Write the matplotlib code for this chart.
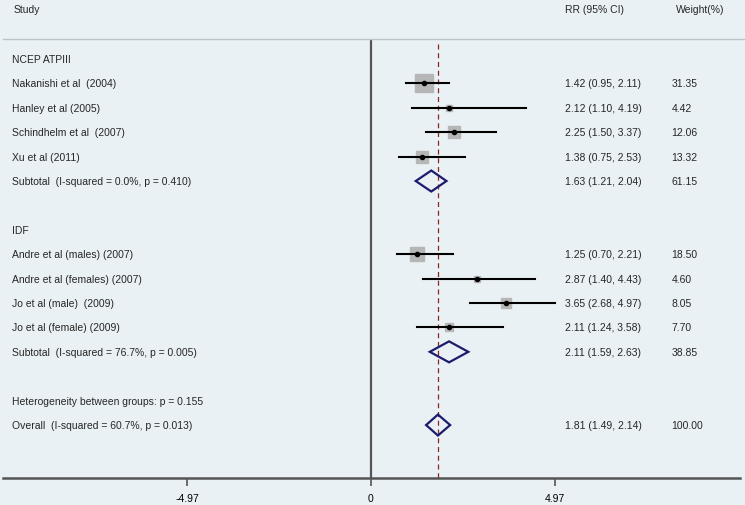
import matplotlib
matplotlib.use('Agg')
import matplotlib.pyplot as plt
import numpy as np
from matplotlib.patches import Polygon

plt.rcParams['font.family'] = ['Liberation Sans', 'DejaVu Sans']
plt.rcParams['text.color'] = '#262626'

# ---- data ----
groups = ['NCEP ATPIII', 'IDF']
studies = [
    ['Nakanishi et al  (2004)', 'Hanley et al (2005)', 'Schindhelm et al  (2007)', 'Xu et al (2011)'],
    ['Andre et al (males) (2007)', 'Andre et al (females) (2007)', 'Jo et al (male)  (2009)', 'Jo et al (female) (2009)'],
]
rr = [[1.42, 2.12, 2.25, 1.38], [1.25, 2.87, 3.65, 2.11]]
lo = [[0.95, 1.10, 1.50, 0.75], [0.70, 1.40, 2.68, 1.24]]
hi = [[2.11, 4.19, 3.37, 2.53], [2.21, 4.43, 4.97, 3.58]]
weights = [[31.35, 4.42, 12.06, 13.32], [18.50, 4.60, 8.05, 7.70]]

sub_labels = ['Subtotal  (I-squared = 0.0%, p = 0.410)', 'Subtotal  (I-squared = 76.7%, p = 0.005)']
sub_rr = [1.63, 2.11]
sub_lo = [1.21, 1.59]
sub_hi = [2.04, 2.63]
sub_w = [61.15, 38.85]

het_label = 'Heterogeneity between groups: p = 0.155'
overall_label = 'Overall  (I-squared = 60.7%, p = 0.013)'
overall = (1.81, 1.49, 2.14, 100.00)

xticks = [-4.97, 0, 4.97]

BG = '#eaf1f4'
FS = 7.5

fig = plt.figure(figsize=(7.45, 5.06), dpi=100, facecolor=BG)
ax = fig.add_axes([3 / 745, (506 - 479) / 506, 737 / 745, (479 - 40) / 506])
ax.set_facecolor(BG)
ax.set_xlim(-9.94, 9.97)
ax.set_ylim(17.17, -0.82)

x_txt = -9.7
x_rr = 5.25
x_w = 8.12


def diamond(y, c, l, h):
    pts = [(l, y), (c, y - 0.43), (h, y), (c, y + 0.43)]
    ax.add_patch(Polygon(pts, closed=True, fill=False, edgecolor='#1c1c6e', linewidth=1.6, zorder=4))


row = 0
for g in range(2):
    ax.text(x_txt, row, groups[g], fontsize=FS, va='center')
    row += 1
    for k in range(4):
        ax.text(x_txt, row, studies[g][k], fontsize=FS, va='center')
        ms = 3.2 * np.sqrt(weights[g][k]) * 0.72
        ax.plot(rr[g][k], row, marker='s', markersize=ms, color='#b6b6b6', zorder=2)
        ax.plot([lo[g][k], hi[g][k]], [row, row], color='black', linewidth=1.5, zorder=3)
        ax.plot(rr[g][k], row, marker='o', markersize=3, color='black', zorder=4)
        ax.text(x_rr, row, f'{rr[g][k]:.2f} ({lo[g][k]:.2f}, {hi[g][k]:.2f})', fontsize=FS, va='center')
        ax.text(x_w, row, f'{weights[g][k]:.2f}', fontsize=FS, va='center')
        row += 1
    ax.text(x_txt, row, sub_labels[g], fontsize=FS, va='center')
    diamond(row, sub_rr[g], sub_lo[g], sub_hi[g])
    ax.text(x_rr, row, f'{sub_rr[g]:.2f} ({sub_lo[g]:.2f}, {sub_hi[g]:.2f})', fontsize=FS, va='center')
    ax.text(x_w, row, f'{sub_w[g]:.2f}', fontsize=FS, va='center')
    row += 2

ax.text(x_txt, row, het_label, fontsize=FS, va='center')
row += 1
ax.text(x_txt, row, overall_label, fontsize=FS, va='center')
diamond(row, overall[0], overall[1], overall[2])
ax.text(x_rr, row, f'{overall[0]:.2f} ({overall[1]:.2f}, {overall[2]:.2f})', fontsize=FS, va='center')
ax.text(x_w, row, f'{overall[3]:.2f}', fontsize=FS, va='center')

# reference lines
ax.axvline(0, color='#555555', linewidth=1.6, zorder=1)
ax.plot([overall[0], overall[0]], [-0.6, 17.17], color='#8a2626', linewidth=0.9,
        linestyle=(0, (4, 3)), zorder=1)

for s in ['top', 'right', 'left']:
    ax.spines[s].set_visible(False)
ax.spines['bottom'].set_color('#555555')
ax.spines['bottom'].set_linewidth(1.8)
ax.set_yticks([])
ax.set_xticks(xticks)
ax.set_xticklabels(['-4.97', '0', '4.97'])
ax.tick_params(axis='x', length=6, width=1.2, color='#555555', labelsize=FS, pad=5)

# header
fig.text(14 / 745, 1 - 10 / 506, 'Study', fontsize=FS, va='center')
fig.text(565 / 745, 1 - 10 / 506, 'RR (95% CI)', fontsize=FS, va='center')
fig.text(676 / 745, 1 - 10 / 506, 'Weight(%)', fontsize=FS, va='center')
fig.add_artist(plt.Line2D([3 / 745, 1], [1 - 39.5 / 506, 1 - 39.5 / 506],
                          color='#bcc4c8', linewidth=1.0))

fig.savefig('out.png', dpi=100, facecolor=BG)
